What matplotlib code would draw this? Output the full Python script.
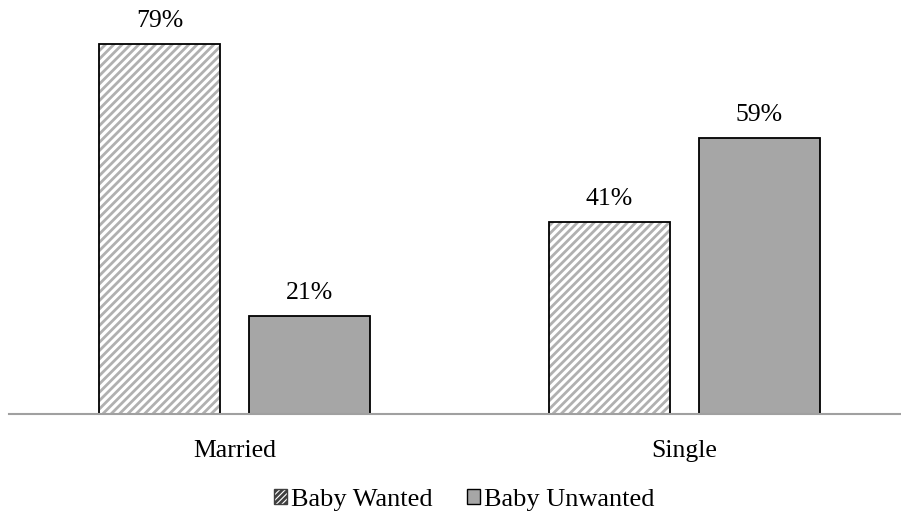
import matplotlib
matplotlib.use("Agg")
import matplotlib.pyplot as plt
from matplotlib.patches import Patch

categories = ["Married", "Single"]
wanted = [79, 41]
unwanted = [21, 59]
series_names = ["Baby Wanted", "Baby Unwanted"]

plt.rcParams['font.family'] = ['Liberation Serif', 'DejaVu Serif']
plt.rcParams['hatch.linewidth'] = 2.0

fig = plt.figure(figsize=(9.01, 5.18), dpi=100)
W, H = 901, 518
ax = fig.add_axes([9 / W, (H - 414) / H, (901 - 9) / W, 414 / H])

x = list(range(len(categories)))
bw = 121 / 450
off = 75 / 450
FS = 18.5

# hatched fill (hatch colour follows edgecolor), then black outline on top
ax.bar([i - off for i in x], wanted, width=bw, color='white',
       edgecolor='#b0b0b0', linewidth=0, hatch='////', zorder=2)
b1 = ax.bar([i - off for i in x], wanted, width=bw, fill=False,
            edgecolor='black', linewidth=1.3, zorder=3)
b2 = ax.bar([i + off for i in x], unwanted, width=bw, color='#a6a6a6',
            edgecolor='black', linewidth=1.3, zorder=3)

for bars, vals in ((b1, wanted), (b2, unwanted)):
    for r, v in zip(bars, vals):
        ax.annotate(f"{v}%", (r.get_x() + r.get_width() / 2, v),
                    xytext=(0, 8.5), textcoords='offset points',
                    ha='center', va='bottom', fontsize=FS)

ax.set_xlim((9 - 234.5) / 450, (901 - 234.5) / 450)
ax.set_ylim(0, 414 / 4.68)
for s in ['top', 'right', 'left']:
    ax.spines[s].set_visible(False)
ax.spines['bottom'].set_color('#a0a0a0')
ax.spines['bottom'].set_linewidth(1.5)
ax.spines['bottom'].set_zorder(4)
ax.set_yticks([])
ax.set_xticks(x)
ax.set_xticklabels(categories, fontsize=FS)
ax.tick_params(axis='x', length=0, pad=18.5)

handles = [Patch(facecolor='white', edgecolor='#404040', hatch='//////', linewidth=1),
           Patch(facecolor='#a6a6a6', edgecolor='black', linewidth=1)]
fig.legend(handles, series_names, loc='center', bbox_to_anchor=(464 / W, 1 - 500 / H),
           ncol=2, frameon=False, fontsize=19, handlelength=0.5, handleheight=0.5,
           handletextpad=0.15, columnspacing=1.3, borderpad=0)

fig.savefig("out.png", dpi=100)
